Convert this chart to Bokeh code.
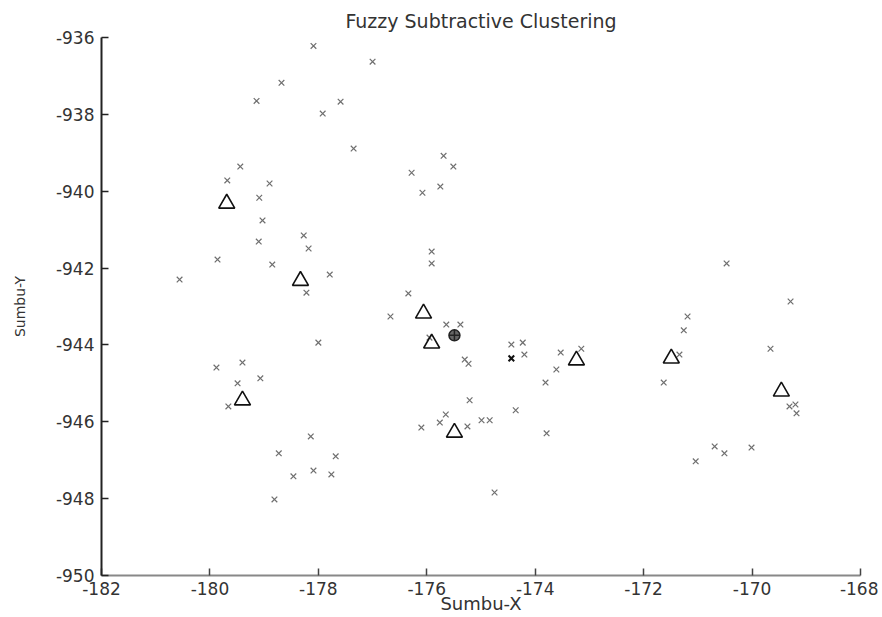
from bokeh.plotting import figure
from bokeh.models import Range1d, FixedTicker
from bokeh.embed import file_html
from bokeh.resources import INLINE

# data points (gray x markers)
data_x = [-178.09, -177.00, -178.68, -179.14, -177.59, -177.92, -177.35, -179.44, -179.68, -178.90,
          -179.09, -179.03, -178.27, -179.10, -178.18, -179.86, -178.85, -180.56, -177.79, -178.22,
          -176.34, -176.67, -178.00, -179.88, -179.40, -179.49, -179.07, -179.66, -178.14, -178.73,
          -177.68, -178.46, -178.09, -177.76, -178.81,
          -175.69, -175.51, -176.28, -175.75, -176.08, -175.91, -175.91, -175.64, -175.38, -175.95,
          -175.30, -175.23, -174.44, -174.23, -174.20, -173.53, -173.15, -173.61, -173.81, -175.21,
          -174.36, -175.65, -175.76, -176.10, -175.25, -174.99, -174.84, -174.75, -173.79,
          -170.47, -169.29, -171.19, -171.26, -171.34, -171.63, -169.66, -169.31, -169.20, -169.18,
          -170.69, -170.51, -170.01, -171.04]
data_y = [-936.22, -936.63, -937.18, -937.65, -937.67, -937.98, -938.89, -939.36, -939.72, -939.80,
          -940.17, -940.76, -941.15, -941.31, -941.49, -941.78, -941.91, -942.30, -942.17, -942.64,
          -942.66, -943.26, -943.94, -944.59, -944.46, -945.00, -944.87, -945.60, -946.38, -946.82,
          -946.90, -947.42, -947.27, -947.37, -948.02,
          -939.08, -939.36, -939.52, -939.88, -940.04, -941.57, -941.88, -943.47, -943.47, -943.81,
          -944.38, -944.49, -943.99, -943.94, -944.25, -944.20, -944.10, -944.64, -944.98, -945.44,
          -945.70, -945.81, -946.02, -946.15, -946.12, -945.96, -945.96, -947.84, -946.30,
          -941.88, -942.87, -943.26, -943.62, -944.25, -944.98, -944.10, -945.60, -945.55, -945.78,
          -946.64, -946.82, -946.67, -947.03]

# overlapping (darker) data point
dup_x = [-174.44]
dup_y = [-944.35]

# cluster centres (triangles)
center_x = [-179.69, -178.33, -176.06, -175.91, -179.40, -175.49, -173.24, -171.49, -169.46]
center_y = [-940.32, -942.33, -943.18, -943.96, -945.44, -946.28, -944.40, -944.35, -945.21]

# highlighted point
sel_x = [-175.49]
sel_y = [-943.75]

x_ticks = [-182, -180, -178, -176, -174, -172, -170, -168]
y_ticks = [-950, -948, -946, -944, -942, -940, -938, -936]

p = figure(width=878, height=617, output_backend="svg", toolbar_location=None,
           x_range=Range1d(-182, -168), y_range=Range1d(-950, -936),
           min_border_left=101, min_border_right=18, min_border_top=37, min_border_bottom=42,
           title="Fuzzy Subtractive Clustering")
p.background_fill_color = "white"
p.border_fill_color = "white"
p.outline_line_color = None
p.grid.visible = False

p.title.align = "center"
p.title.text_font = "DejaVu Sans"
p.title.text_font_size = "19px"
p.title.text_font_style = "normal"
p.title.text_color = "#333333"
p.title.standoff = 11

p.xaxis.ticker = FixedTicker(ticks=x_ticks)
p.yaxis.ticker = FixedTicker(ticks=y_ticks)
p.xaxis.major_label_overrides = {t: str(t) for t in x_ticks}
p.yaxis.major_label_overrides = {t: str(t) for t in y_ticks}
for ax in (p.xaxis[0], p.yaxis[0]):
    ax.major_tick_in = 7
    ax.major_tick_out = 0
    ax.minor_tick_line_color = None
    ax.major_label_text_font = "DejaVu Sans"
    ax.major_label_text_font_size = "17px"
    ax.major_label_text_color = "#333333"
    ax.axis_label_text_font = "DejaVu Sans"
    ax.axis_label_text_font_style = "normal"
    ax.axis_label_text_color = "#333333"
    ax.major_tick_line_width = 1.5

p.yaxis.axis_line_color = "#222222"
p.yaxis.axis_line_width = 2
p.yaxis.major_tick_line_color = "#222222"
p.yaxis.major_label_standoff = 7
p.yaxis.axis_label = "Sumbu-Y"
p.yaxis.axis_label_text_font_size = "14px"
p.yaxis.axis_label_standoff = 25

p.xaxis.axis_line_color = "#888888"
p.xaxis.axis_line_width = 2
p.xaxis.major_tick_line_color = "#444444"
p.xaxis.major_label_standoff = 6
p.xaxis.axis_label = "Sumbu-X"
p.xaxis.axis_label_text_font_size = "18px"
p.xaxis.axis_label_standoff = -5

p.scatter(data_x, data_y, marker="x", size=8, line_color="#6f6f6f", line_width=1.2)
p.scatter(dup_x, dup_y, marker="x", size=8, line_color="#111111", line_width=2)
p.scatter(center_x, center_y, marker="triangle", size=16, fill_color=None,
          line_color="#111111", line_width=1.6)
p.scatter(sel_x, sel_y, marker="circle_cross", size=11, fill_color="#666666",
          line_color="#222222", line_width=1.5)

open("out.html", "w").write(file_html(p, INLINE))
